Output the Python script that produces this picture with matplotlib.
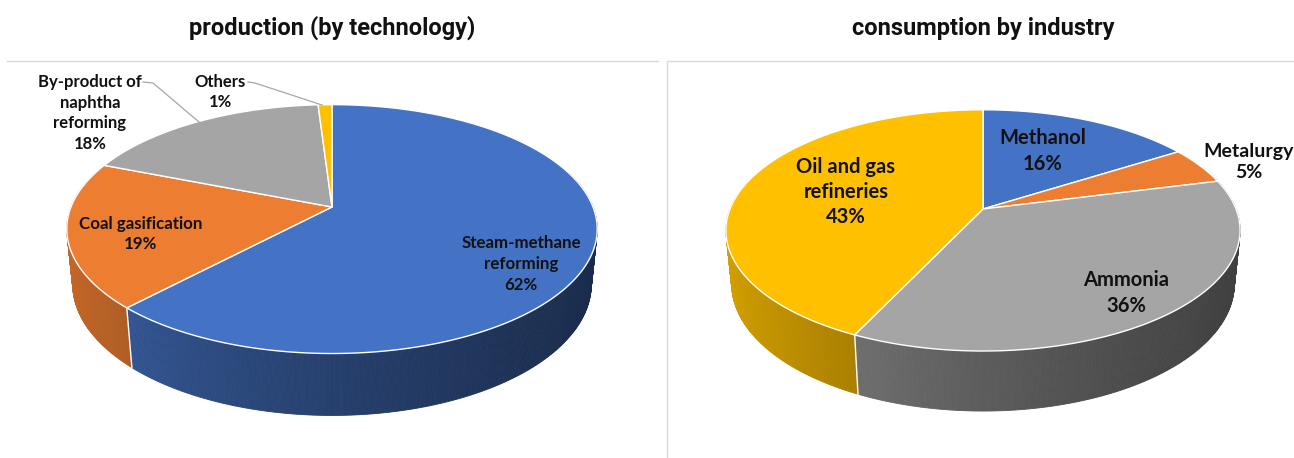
import numpy as np
import matplotlib
matplotlib.use("Agg")
import matplotlib.pyplot as plt
from matplotlib.patches import Polygon

# ---- data -------------------------------------------------------------
prod_title = "production (by technology)"
prod_labels = ["Steam-methane\nreforming", "Coal gasification",
               "By-product of\nnaphtha\nreforming", "Others"]
prod_values = [62, 19, 18, 1]

cons_title = "consumption by industry"
cons_labels = ["Methanol", "Metalurgy", "Ammonia", "Oil and gas\nrefineries"]
cons_values = [16, 5, 36, 43]

slice_colors = ["#4472C4", "#ED7D31", "#A5A5A5", "#FFC000"]

# ---- layout (pixel space) ----------------------------------------------
W, H = 1294, 458
LABEL_FONT = ["Lato", "DejaVu Sans"]
TITLE_FONT = ["Roboto", "DejaVu Sans"]

prod_cam = dict(cx=332, cy=207, scale=261)
cons_cam = dict(cx=983, cy=209, scale=253)
TILT = np.radians(27.5)   # elevation of the viewer
PERSP = 0.2               # 1 / camera distance (in radii)
DEPTH = 0.24              # thickness of the disc (in radii)

prod_label_pos = [(521, 264), (141, 234), (90, 113), (220, 92)]
prod_label_size = [12.2, 12.2, 12, 12]
prod_linespacing = 1.38
cons_label_pos = [(1043, 151), (1249, 162), (1126, 293), (846, 192)]
cons_label_size = [14.5, 14, 14.5, 14.5]
cons_linespacing = 1.34

# leader lines for the labels that sit outside the pie
prod_leaders = {2: [(143, 82), (153, 83), (199, 122)],
                3: [(248, 82), (255, 83), (322, 105)]}


def project(X, Y, Z, cam):
    s, c = np.sin(TILT), np.cos(TILT)
    w = 1 + PERSP * (Y * c - Z * s)
    sx = cam["cx"] + cam["scale"] * X / w
    sy = cam["cy"] - cam["scale"] * (Y * s + Z * c) / w
    return sx, sy


def shade(color, nx):
    rgb = np.array(matplotlib.colors.to_rgb(color))
    f = 0.56 - 0.23 * nx + 0.05 * nx * nx
    return tuple(np.clip(rgb * f, 0, 1))


def draw_pie(ax, values, colors, cam):
    vals = np.asarray(values, dtype=float)
    bounds = np.concatenate([[0], np.cumsum(vals) / vals.sum()]) * 2 * np.pi

    # side wall, back to front
    step = np.radians(0.5)
    phis = np.arange(0, 2 * np.pi, step)
    quads = []
    for ph in phis:
        p0, p1 = ph, min(ph + step, 2 * np.pi)
        mid = 0.5 * (p0 + p1)
        if np.cos(mid) > 0.3:
            continue
        idx = np.searchsorted(bounds, mid) - 1
        col = shade(colors[idx], np.sin(mid))
        xs, ys = [], []
        for (a, z) in [(p0, 0), (p1, 0), (p1, -DEPTH), (p0, -DEPTH)]:
            x, y = project(np.sin(a), np.cos(a), z, cam)
            xs.append(x)
            ys.append(y)
        quads.append((np.cos(mid), np.column_stack([xs, ys]), col))
    quads.sort(key=lambda q: -q[0])
    for _, pts, col in quads:
        ax.add_patch(Polygon(pts, closed=True, facecolor=col, edgecolor=col,
                             linewidth=0.6, zorder=1))

    # white seams on the wall where slices meet
    for b in bounds[1:-1]:
        if np.cos(b) < -0.25:
            x0, y0 = project(np.sin(b), np.cos(b), 0, cam)
            x1, y1 = project(np.sin(b), np.cos(b), -DEPTH, cam)
            ax.plot([x0, x1], [y0, y1], color="white", lw=1.0, zorder=2)

    # top faces
    for i in range(len(vals)):
        a = np.linspace(bounds[i], bounds[i + 1],
                        max(3, int(np.degrees(bounds[i + 1] - bounds[i]) * 2)))
        xs, ys = project(np.sin(a), np.cos(a), 0 * a, cam)
        cx0, cy0 = project(0.0, 0.0, 0.0, cam)
        pts = np.column_stack([np.r_[cx0, xs], np.r_[cy0, ys]])
        ax.add_patch(Polygon(pts, closed=True, facecolor=colors[i],
                             edgecolor="white", linewidth=1.0, zorder=3,
                             joinstyle="round"))


fig = plt.figure(figsize=(W / 100, H / 100), dpi=100)
ax = fig.add_axes([0, 0, 1, 1])
ax.set_xlim(0, W)
ax.set_ylim(H, 0)
ax.axis("off")

# panel frames
frame = "#D9D9D9"
ax.plot([7, 658], [61, 61], color=frame, lw=1.0, zorder=0)
ax.plot([667, 667, W], [H, 61, 61], color=frame, lw=1.0, zorder=0)

draw_pie(ax, prod_values, slice_colors, prod_cam)
draw_pie(ax, cons_values, slice_colors, cons_cam)

ax.text(332, 28, prod_title, ha="center", va="center", fontsize=17,
        fontweight="bold", family=TITLE_FONT, color="#111111")
ax.text(983, 28, cons_title, ha="center", va="center", fontsize=17,
        fontweight="bold", family=TITLE_FONT, color="#111111")


def put_labels(labels, values, pos, sizes, spacing):
    for lab, v, (x, y), fs in zip(labels, values, pos, sizes):
        ax.text(x, y, f"{lab}\n{v}%", ha="center", va="center",
                multialignment="center", fontsize=fs, fontweight="bold",
                family=LABEL_FONT, color="#111111", linespacing=spacing,
                zorder=5)


put_labels(prod_labels, prod_values, prod_label_pos, prod_label_size,
           prod_linespacing)
put_labels(cons_labels, cons_values, cons_label_pos, cons_label_size,
           cons_linespacing)

for pts in prod_leaders.values():
    xs, ys = zip(*pts)
    ax.plot(xs, ys, color="#A6A6A6", lw=0.9, zorder=4)

fig.savefig("out.png", dpi=100)
